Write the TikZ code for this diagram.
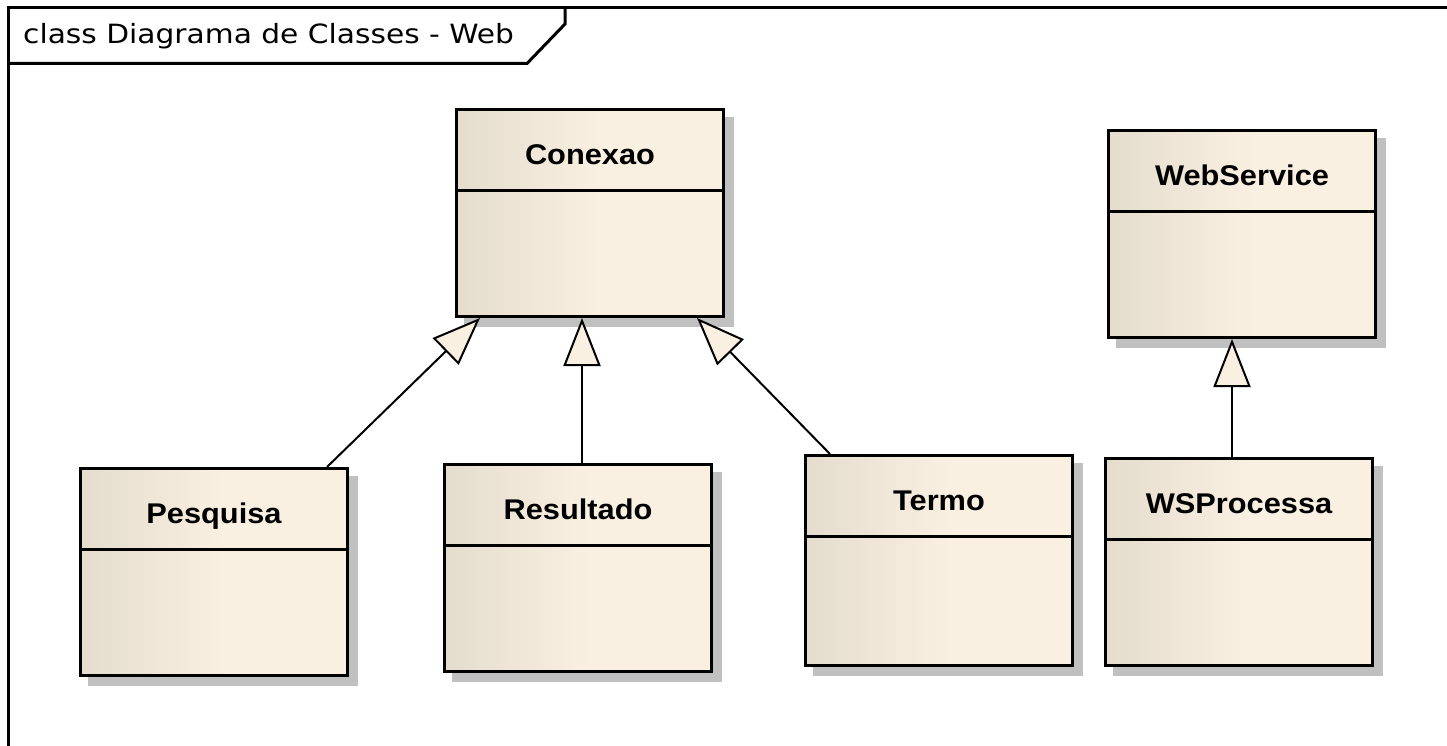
\documentclass[tikz,border=0pt]{standalone}
\usepackage{fontspec}
\newfontfamily\titlefont{DejaVu Sans}
\newfontfamily\namefont{Liberation Sans}
\usetikzlibrary{arrows.meta,backgrounds}
\definecolor{classdark}{HTML}{E4DCCD}
\definecolor{classlight}{HTML}{FAF0E2}
\definecolor{shadowgray}{HTML}{C0C0C0}
\pgfdeclarehorizontalshading{classfill}{100bp}{color(0bp)=(classdark); color(25bp)=(classdark); color(52bp)=(classlight); color(100bp)=(classlight)}
\newcommand\classtitle[1]{\scalebox{1.08}[1]{\namefont\bfseries\fontsize{28.5}{34}\selectfont #1}}

\begin{document}
\begin{tikzpicture}[x=1pt,y=-1pt,
  umlclass/.style={draw, line width=3pt, shade, shading=classfill, anchor=north west,
    minimum width=267pt, minimum height=207pt, inner sep=0pt},
  classlabel/.style={anchor=base, inner sep=0pt},
  generalization/.style={draw, line width=2pt, -{Triangle[length=48pt,width=37pt,fill=classlight]}},
  frameline/.style={draw, line width=3pt},
]
\useasboundingbox (0,0) rectangle (1447,746);
\clip (0,0) rectangle (1447,746);

% classes
\node[umlclass] (conexao) at (455,108) {};
\node[umlclass] (webservice) at (1107,129) {};
\node[umlclass] (pesquisa) at (79,467) {};
\node[umlclass] (resultado) at (443,463) {};
\node[umlclass, minimum height=210pt] (termo) at (804,454) {};
\node[umlclass] (wsprocessa) at (1104,457) {};

% compartment separators
\foreach \n in {conexao,webservice,pesquisa,resultado,termo,wsprocessa}
  \draw[line width=3pt] ([yshift=-82.5pt]\n.north west) -- ([yshift=-82.5pt]\n.north east);

% class names
\node[classlabel] (conexao-name) at ([yshift=-56.5pt]conexao.north) {\classtitle{Conexao}};
\node[classlabel] (webservice-name) at ([yshift=-56.5pt]webservice.north) {\classtitle{WebService}};
\node[classlabel] (pesquisa-name) at ([yshift=-56.5pt]pesquisa.north) {\classtitle{Pesquisa}};
\node[classlabel] (resultado-name) at ([yshift=-56.5pt]resultado.north) {\classtitle{Resultado}};
\node[classlabel] (termo-name) at ([yshift=-56.5pt]termo.north) {\classtitle{Termo}};
\node[classlabel] (wsprocessa-name) at ([yshift=-56.5pt]wsprocessa.north) {\classtitle{WSProcessa}};

% generalizations
\draw[generalization] ([xshift=248pt]pesquisa.north west) -- ([xshift=25pt]conexao.south west);
\draw[generalization] ([xshift=139pt]resultado.north west) -- ([xshift=127pt]conexao.south west);
\draw[generalization] ([xshift=26pt]termo.north west) -- ([xshift=242pt]conexao.south west);
\draw[generalization] ([xshift=128pt]wsprocessa.north west) -- ([xshift=125pt]webservice.south west);

% diagram frame with its name tab
\draw[frameline] (1460,7.5) -- (8.5,7.5) -- (8.5,760);
\draw[frameline] (8.5,63.5) -- (527,63.5) -- (565,24) -- (565,7.5);
\node[anchor=base west, inner sep=0pt] (frame-title) at (23,44)
  {\scalebox{1.12}[1]{\titlefont\fontsize{26.5}{32}\selectfont class Diagrama de Classes - Web}};

% page background and drop shadows
\begin{scope}[on background layer]
  \fill[white] (0,0) rectangle (1447,746);
  \foreach \n in {conexao,webservice,pesquisa,resultado,termo,wsprocessa}
    \fill[shadowgray] ([shift={(9pt,-9pt)}]\n.north west) rectangle ([shift={(9pt,-9pt)}]\n.south east);
\end{scope}
\end{tikzpicture}
\end{document}
